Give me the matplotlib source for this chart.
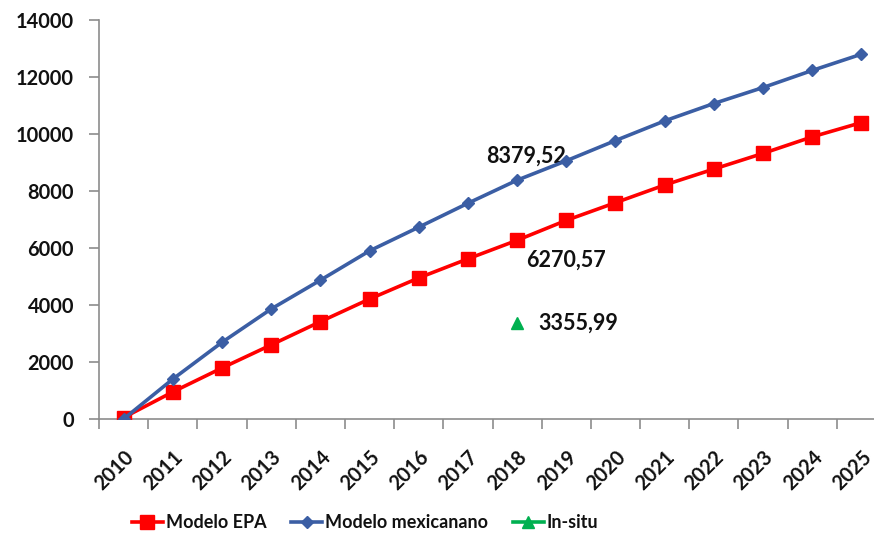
import matplotlib
matplotlib.use("Agg")
import matplotlib.pyplot as plt
from matplotlib.ticker import FixedLocator, NullFormatter

years = ["2010", "2011", "2012", "2013", "2014", "2015", "2016", "2017",
         "2018", "2019", "2020", "2021", "2022", "2023", "2024", "2025"]
modelo_epa = [50, 950, 1790, 2600, 3415, 4210, 4950, 5620, 6270.57, 6970,
              7590, 8210, 8770, 9320, 9900, 10400]
modelo_mex = [0, 1400, 2690, 3860, 4870, 5900, 6730, 7570, 8379.52, 9060,
              9770, 10460, 11070, 11630, 12230, 12800]
insitu_year = "2018"
insitu_value = 3355.99
label_epa = "6270,57"
label_mex = "8379,52"
label_insitu = "3355,99"
yticks = [0, 2000, 4000, 6000, 8000, 10000, 12000, 14000]

FONT = "Lato"
plt.rcParams['font.family'] = [FONT, 'DejaVu Sans']
plt.rcParams['font.weight'] = 'bold'

W, H = 874, 541
fig = plt.figure(figsize=(W / 100, H / 100), dpi=100)
left, right, top, bottom = 99, 886, 20, 419
ax = fig.add_axes([left / W, (H - bottom) / H, (right - left) / W, (bottom - top) / H])

x = list(range(len(years)))
red = "#ff0000"
blue = "#3b5ea4"
green = "#00b050"
grey = "#8c8c8c"
txt = "#111111"

ax.plot(x, modelo_epa, color=red, lw=2.6, marker="s", markersize=9.5,
        label="Modelo EPA", zorder=3)
ax.plot(x, modelo_mex, color=blue, lw=2.6, marker="D", markersize=6.5,
        label="Modelo mexicanano", zorder=4)
xi = years.index(insitu_year)
ax.plot([xi], [insitu_value], color=green, lw=0, marker="^", markersize=8,
        zorder=5)
ax.plot([], [], color=green, lw=2.6, marker="^", markersize=8, label="In-situ")

ax.set_xlim(-0.5, len(years) - 0.5)
ax.set_ylim(0, 14000)

afs = 15.5
ax.annotate(label_mex, (xi, modelo_mex[xi]), xytext=(-22, 17),
            textcoords="offset points", fontsize=afs, fontweight="bold",
            ha="left", va="center", color=txt)
ax.annotate(label_epa, (xi, modelo_epa[xi]), xytext=(6.5, -14),
            textcoords="offset points", fontsize=afs, fontweight="bold",
            ha="left", va="center", color=txt)
ax.annotate(label_insitu, (xi, insitu_value), xytext=(15, 0),
            textcoords="offset points", fontsize=afs, fontweight="bold",
            ha="left", va="center", color=txt)

for s in ["top", "right"]:
    ax.spines[s].set_visible(False)
for s in ["left", "bottom"]:
    ax.spines[s].set_color(grey)
    ax.spines[s].set_linewidth(1.2)

tfs = 14.4
ax.set_yticks(yticks)
ax.set_yticklabels([str(v) for v in yticks])
ax.tick_params(axis="y", direction="out", length=7, width=1.2, color=grey,
               labelsize=tfs, pad=11, labelcolor=txt)

ax.set_xticks(x)
ax.set_xticklabels(years, rotation=45, ha="right", va="top",
                   rotation_mode="anchor")
ax.tick_params(axis="x", which="major", length=0, labelsize=tfs, pad=20,
               labelcolor=txt)
ax.xaxis.set_minor_locator(FixedLocator([i - 0.5 for i in range(len(years) + 1)]))
ax.xaxis.set_minor_formatter(NullFormatter())
ax.tick_params(axis="x", which="minor", direction="out", length=7, width=1.2,
               color=grey)
for lab in ax.get_xticklabels() + ax.get_yticklabels():
    lab.set_fontweight("bold")

leg = fig.legend(loc="center", bbox_to_anchor=(365 / W, 1 - 523 / H),
                 ncol=3, frameon=False, handlelength=1.75,
                 handletextpad=0.15, columnspacing=1.35,
                 prop={"weight": "bold", "size": 13})
for t in leg.get_texts():
    t.set_color(txt)

fig.savefig("out.png", dpi=100)
